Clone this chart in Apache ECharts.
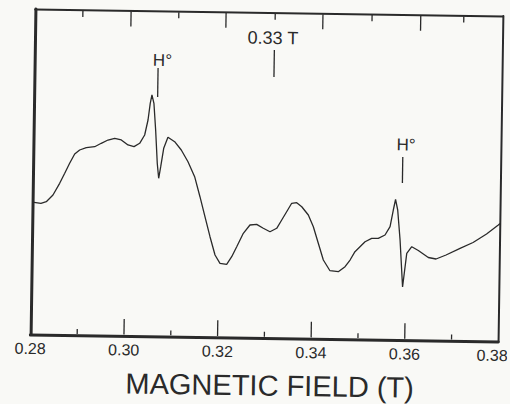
<!DOCTYPE html>
<html>
<head>
<meta charset="utf-8">
<script src="https://cdn.jsdelivr.net/npm/echarts@6/dist/echarts.min.js"></script>
<style>
  html, body { margin: 0; padding: 0; background: #f9f9f6; }
  #chart { width: 510px; height: 404px; transform: rotate(0.85deg); transform-origin: 267px 175px; }
</style>
</head>
<body>
<div id="chart"></div>
<script>
// Magnetic field (T) sampled along the trace
const fieldT = [0.2800, 0.28185, 0.28298, 0.28439, 0.28578, 0.28683, 0.28785, 0.2889, 0.28995, 0.29136,
  0.29315, 0.29454, 0.29597, 0.2974, 0.29881, 0.30026, 0.30155, 0.30275, 0.30379, 0.30446,
  0.30488, 0.30522, 0.30567, 0.30612, 0.30657, 0.30692, 0.30732, 0.3079, 0.30877, 0.31022,
  0.31166, 0.31313, 0.3146, 0.3158, 0.31693, 0.31807, 0.3192, 0.32029, 0.32172, 0.32277,
  0.32381, 0.32518, 0.32657, 0.328, 0.32943, 0.33087, 0.3323, 0.33334, 0.33437, 0.33542,
  0.33649, 0.33758, 0.33901, 0.34012, 0.34123, 0.34236, 0.34381, 0.34559, 0.34702, 0.34807,
  0.34909, 0.35121, 0.35262, 0.35403, 0.35546, 0.35651, 0.35715, 0.3576, 0.35809, 0.35869,
  0.35937, 0.36016, 0.36121, 0.36262, 0.36478, 0.36643, 0.36856, 0.37153, 0.37429, 0.37715,
  0.37963, 0.3800];
// EPR signal (arbitrary units, 0-100 = full plot height)
const signal = [40.7, 40.35, 40.87, 42.96, 46.58, 49.68, 52.77, 55.65, 56.9, 57.64,
  57.98, 59.06, 60.1, 60.66, 60.17, 58.66, 58.17, 59.23, 61.81, 66.43,
  71.57, 74.13, 71.59, 63.4, 53.17, 48.57, 52.14, 57.81, 61.21, 59.89,
  57.37, 53.8, 49.23, 43.1, 36.98, 30.86, 25.26, 22.73, 22.46, 24.82,
  27.91, 32.06, 34.64, 34.88, 33.69, 32.67, 33.75, 36.32, 38.89, 41.5,
  41.7, 40.49, 37.98, 34.4, 29.33, 24.22, 20.96, 20.69, 22.26, 24.34,
  26.92, 30.03, 31.11, 31.14, 32.18, 34.76, 39.9, 43.14, 39.92, 30.71,
  16.28, 26.66, 28.71, 27.57, 25.47, 25.04, 26.32, 28.44, 30.28, 32.95,
  35.77, 36.2];

// Tick positions (tesla, bottom-axis scale)
const bottomMajorTicks = [0.30, 0.32, 0.34, 0.36];
const bottomMinorTicks = [0.29, 0.31, 0.33, 0.35, 0.37];
const topLongTicks = [0.3005, 0.3208, 0.3415, 0.3624];
const topShortTicks = [0.2902, 0.3107, 0.3313, 0.3520, 0.3716];

// Annotations: text labels and their marker lines
const annoTexts = ['H°', '0.33 T', 'H°'];
const annoTextField = [0.30736, 0.33091, 0.35966];
const annoTextLevel = [84.78, 92.2, 59.93];
const annoTextSize = [17, 18, 17];
const markerField = [0.30646, 0.3312, 0.35888];
const markerTop = [82.46, 88.51, 56.22];
const markerBottom = [73.55, 80.22, 48.23];

const ink = '#2a2a2a';
const FONT = 'Liberation Sans';
const Y_MIN = 0, Y_MAX = 100;
// tick lengths, in y-axis units (plot height = 100 units); start just inside the frame
const IN_BOTTOM = 0.4, IN_TOP = 0.3;
const LEN_MAJOR = 5.2, LEN_MINOR = 1.9, LEN_TOP_LONG = 4.9, LEN_TOP_SHORT = 2.2;

const chart = echarts.init(document.getElementById('chart'), null, { renderer: 'svg' });

// each tick is drawn as its own tiny two-point line series through the axes' scales
const tickSeg = (x, y1, y2) => ({
  type: 'line',
  data: [[x, y1], [x, y2]],
  showSymbol: false,
  symbol: 'none',
  silent: true,
  clip: false,
  lineStyle: { color: ink, width: 1.3 },
  emphasis: { disabled: true },
  z: 5
});
const tickSeries = [].concat(
  bottomMajorTicks.map(x => tickSeg(x, Y_MIN + IN_BOTTOM, Y_MIN + LEN_MAJOR)),
  bottomMinorTicks.map(x => tickSeg(x, Y_MIN + IN_BOTTOM, Y_MIN + LEN_MINOR)),
  topLongTicks.map(x => tickSeg(x, Y_MAX - IN_TOP, Y_MAX - LEN_TOP_LONG)),
  topShortTicks.map(x => tickSeg(x, Y_MAX - IN_TOP, Y_MAX - LEN_TOP_SHORT))
);

chart.setOption({
  animation: false,
  grid: { left: 32.75, right: 9.25, top: 12.5, bottom: 66, containLabel: false, outerBoundsMode: 'none' },
  xAxis: [
    {
      type: 'value', position: 'bottom',
      min: 0.28, max: 0.38, interval: 0.02,
      axisLine: { show: true, onZero: false, lineStyle: { color: ink, width: 3 } },
      axisTick: { show: false },
      splitLine: { show: false },
      axisLabel: {
        formatter: v => (Math.abs(v - 0.38) < 1e-9 ? '{r|' + v.toFixed(2) + '}' : v.toFixed(2)),
        fontSize: 16, margin: 6, color: ink, fontFamily: FONT,
        rich: { r: { fontSize: 16, color: ink, fontFamily: FONT, padding: [0, 12, 0, 0] } }
      },
      name: 'MAGNETIC FIELD (T)', nameLocation: 'middle', nameGap: 33,
      nameTextStyle: { fontSize: 29, color: ink, fontFamily: FONT, padding: [0, 0, 0, 12] }
    },
    {
      type: 'value', position: 'top',
      min: 0.28, max: 0.38,
      axisLine: { show: true, onZero: false, lineStyle: { color: ink, width: 2 } },
      axisTick: { show: false },
      axisLabel: { show: false },
      splitLine: { show: false }
    }
  ],
  yAxis: [
    {
      type: 'value', position: 'left', min: Y_MIN, max: Y_MAX,
      axisLine: { show: true, onZero: false, lineStyle: { color: ink, width: 3 } },
      axisTick: { show: false }, axisLabel: { show: false }, splitLine: { show: false }
    },
    {
      type: 'value', position: 'right', min: Y_MIN, max: Y_MAX,
      axisLine: { show: true, onZero: false, lineStyle: { color: ink, width: 2 } },
      axisTick: { show: false }, axisLabel: { show: false }, splitLine: { show: false }
    }
  ],
  series: [
    {
      type: 'line',
      xAxisIndex: 0, yAxisIndex: 0,
      data: fieldT.map((f, i) => [f, signal[i]]),
      showSymbol: false,
      clip: false,
      lineStyle: { color: ink, width: 1.3 },
      markLine: {
        silent: true,
        symbol: ['none', 'none'],
        label: { show: false },
        lineStyle: { type: 'solid', color: ink, width: 1.3 },
        data: markerField.map((x, i) => [{ coord: [x, markerTop[i]] }, { coord: [x, markerBottom[i]] }])
      },
      markPoint: {
        silent: true,
        symbol: 'circle',
        symbolSize: 1,
        itemStyle: { color: 'rgba(0,0,0,0)' },
        data: annoTexts.map((t, i) => ({
          name: t,
          coord: [annoTextField[i], annoTextLevel[i]],
          label: {
            show: true, position: 'inside', formatter: '{b}',
            fontSize: annoTextSize[i], color: ink, fontFamily: FONT
          }
        }))
      }
    }
  ].concat(tickSeries)
});
</script>
</body>
</html>
